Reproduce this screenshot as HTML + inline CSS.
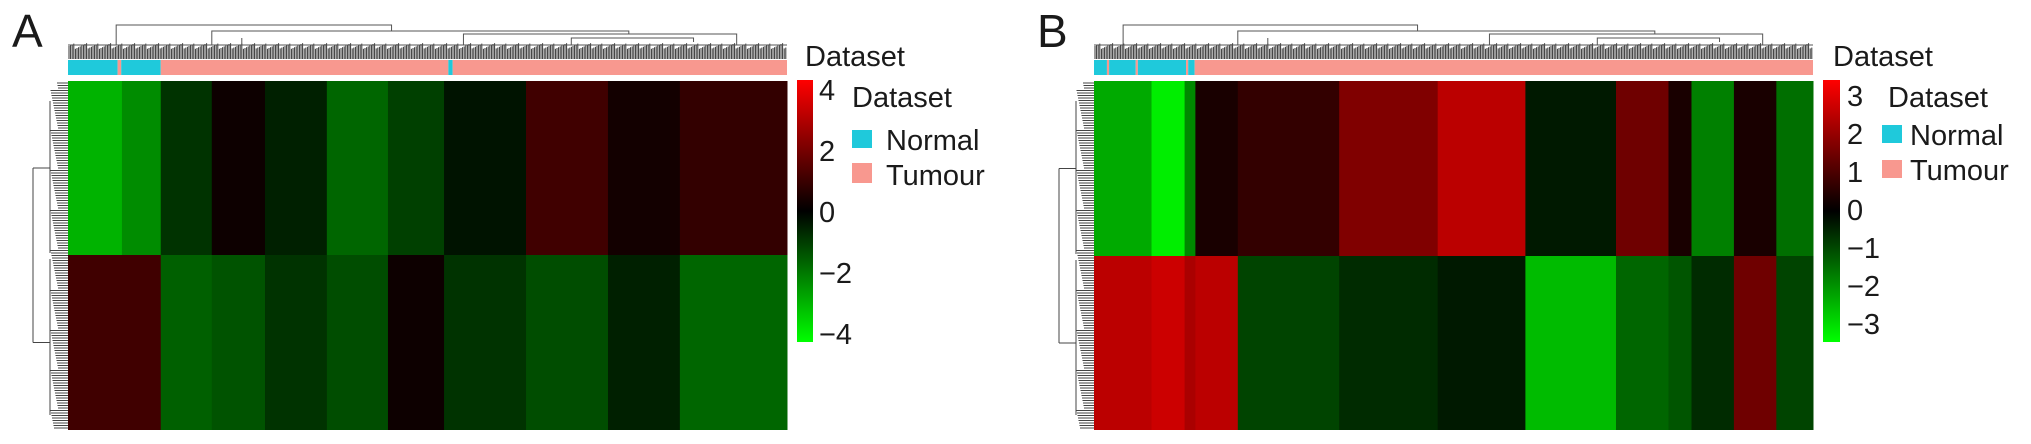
<!DOCTYPE html>
<html><head><meta charset="utf-8"><style>
body{margin:0;background:#fff;width:2031px;height:444px;overflow:hidden}
svg{display:block}
text{font-family:"Liberation Sans",sans-serif;fill:#1a1a1a}
</style></head><body>
<svg id="fig" width="2031" height="444" xmlns="http://www.w3.org/2000/svg">
<defs>
<linearGradient id="gA" x1="0" y1="0" x2="0" y2="1"><stop offset="0" stop-color="#ff0000"/><stop offset="0.5" stop-color="#000"/><stop offset="1" stop-color="#00ff00"/></linearGradient>
</defs>
<text x="12" y="47" font-size="46">A</text>
<text x="1037" y="47" font-size="46">B</text>
<g id="A"></g>
<g id="B"></g>
<rect x="797" y="80" width="16" height="262" fill="url(#gA)"/>
<rect x="1823" y="80" width="17" height="262" fill="url(#gA)"/>
<text x="805" y="66" font-size="29">Dataset</text>
<text x="852" y="107" font-size="29">Dataset</text>
<rect x="852" y="130" width="20" height="18" fill="#1fc9db"/>
<text x="886" y="150" font-size="29">Normal</text>
<rect x="852" y="163" width="20" height="20" fill="#f8988f"/>
<text x="886" y="185" font-size="29">Tumour</text>
<text x="1833" y="66" font-size="29">Dataset</text>
<text x="1888" y="107" font-size="29">Dataset</text>
<rect x="1882" y="125" width="20" height="18" fill="#1fc9db"/>
<text x="1910" y="145" font-size="29">Normal</text>
<rect x="1882" y="160" width="20" height="18" fill="#f8988f"/>
<text x="1910" y="180" font-size="29">Tumour</text>
<g id="ticks"></g>
</svg>
<script>
const colEdgesA = [0, 0.075, 0.129, 0.200, 0.274, 0.360, 0.445, 0.523, 0.637, 0.751, 0.851, 1.0];
const topValsA  = [-2.8, -2.2, -0.8, 0.2, -0.5, -1.6, -1.0, -0.3, 1.0, 0.3, 0.8];
const botValsA  = [1.0, 1.0, -1.5, -1.3, -0.8, -1.2, 0.2, -0.8, -1.2, -0.5, -1.6];
const ticksA = [4, 2, 0, -2, -4];
const groupEdgesA = [0, 0.069, 0.074, 0.129, 0.529, 0.535, 1.0];
const groupsA = ["Normal","Tumour","Normal","Tumour","Normal","Tumour"];
const colEdgesB = [0, 0.08, 0.126, 0.141, 0.2, 0.341, 0.478, 0.6, 0.726, 0.799, 0.831, 0.89, 0.949, 1.0];
const topValsB  = [-2.0, -2.8, -1.6, 0.3, 0.6, 1.5, 2.2, -0.3, 1.3, 0.3, -1.5, 0.3, -1.3];
const botValsB  = [2.2, 2.4, 2.0, 2.2, -0.8, -0.5, -0.3, -2.2, -1.2, -1.0, -0.5, 1.3, -0.8];
const ticksB = [3, 2, 1, 0, -1, -2, -3];
const groupEdgesB = [0, 0.018, 0.021, 0.058, 0.061, 0.128, 0.131, 0.14, 1.0];
const groupsB = ["Normal","Tumour","Normal","Tumour","Normal","Tumour","Normal","Tumour"];

const NS="http://www.w3.org/2000/svg";
function mk(parent,tag,attrs){const e=document.createElementNS(NS,tag);for(const k in attrs)e.setAttribute(k,attrs[k]);parent.appendChild(e);return e;}
function colour(v,max){const f=Math.max(-1,Math.min(1,v/max));const c=Math.round(Math.abs(f)*255);return f>=0?`rgb(${c},0,0)`:`rgb(0,${c},0)`;}

function panel(id,x0,x1,split,colEdges,topVals,botVals,max,gEdges,groups){
  const g=document.getElementById(id);
  const y0=81,y1=430;
  const xs=f=>x0+f*(x1-x0);
  for(let i=0;i<topVals.length;i++){
    const a=xs(colEdges[i]),b=xs(colEdges[i+1]);
    const r1=mk(g,'rect',{x:a,y:y0,width:b-a+0.5,height:split-y0,fill:colour(topVals[i],max)});
    
    
    const r2=mk(g,'rect',{x:a,y:split,width:b-a+0.5,height:y1-split,fill:colour(botVals[i],max)});
    
    
  }
  for(let i=0;i<groups.length;i++){
    const a=xs(gEdges[i]),b=xs(gEdges[i+1]);
    const r=mk(g,'rect',{x:a,y:60,width:b-a,height:15,fill:groups[i]==="Normal"?"#1fc9db":"#f8988f"});
    
    
  }
  const dg=mk(g,'g',{stroke:'#333','stroke-width':1,fill:'none'});
  
  
  for(let x=x0+1;x<x1;x+=1.6){mk(dg,'line',{x1:x,y1:43+((x*7)%6),x2:x,y2:59});}
  mk(dg,'line',{x1:x0,y1:45,x2:x1,y2:45,stroke:'#555'});
  const L=xs(gEdges[2]/2+0.03),R=xs(0.45);
  mk(dg,'path',{d:`M${L},45 V25 H${R} V31 M${xs(0.2)},45 V31 H${xs(0.78)} V34 M${xs(0.2)+30},45 V38 M${xs(0.55)},45 V34 H${xs(0.93)} V45 M${xs(0.7)},45 V38 H${xs(0.87)} V42`,stroke:'#555'});
  const rg=mk(g,'g',{stroke:'#444','stroke-width':1,fill:'none'});
  
  
  for(let y=y0+2;y<y1;y+=2.5){mk(rg,'line',{x1:x0-10-((y*3)%8),y1:y,x2:x0,y2:y});}
  mk(rg,'path',{d:`M${x0-18},${y0+20} V${split-2} M${x0-18},${split+4} V${y1-15} M${x0-35},${(y0+split)/2} V${(split+y1)/2} M${x0-35},${(y0+split)/2} H${x0-18} M${x0-35},${(split+y1)/2} H${x0-18}`});
}
panel('A',68,787,255,colEdgesA,topValsA,botValsA,4,groupEdgesA,groupsA);
panel('B',1094,1813,256,colEdgesB,topValsB,botValsB,3,groupEdgesB,groupsB);

const tg=document.getElementById('ticks');
const cbY=(v,max)=>80+(max-v)/(2*max)*262;
ticksA.forEach(v=>{const t=mk(tg,'text',{x:819,y:cbY(v,4.3)+11,'font-size':29});t.textContent=v<0?'\u2212'+(-v):String(v);

});
ticksB.forEach(v=>{const t=mk(tg,'text',{x:1847,y:cbY(v,3.45)+9,'font-size':29});t.textContent=v<0?'\u2212'+(-v):String(v);

});
</script>
</body></html>
